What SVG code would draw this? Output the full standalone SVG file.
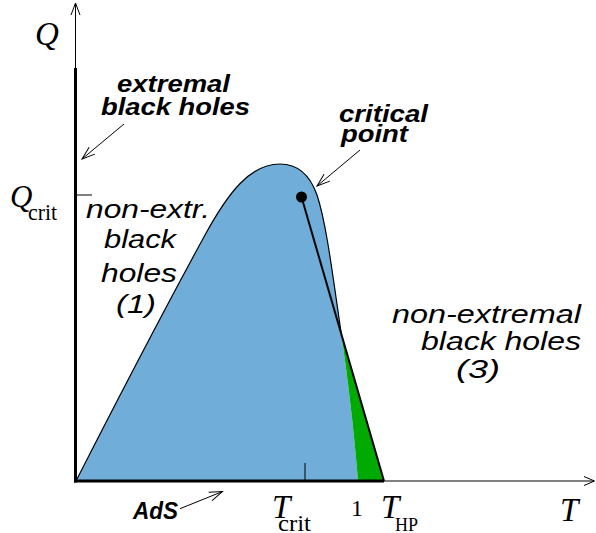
<svg xmlns="http://www.w3.org/2000/svg" width="596" height="533" viewBox="0 0 596 533">
<defs>
<style>
.sans{font-family:"Liberation Sans",Arial,sans-serif;font-style:italic;font-size:25px;fill:#000}
.bold{font-family:"Liberation Sans",Arial,sans-serif;font-style:italic;font-weight:bold;font-size:24px;fill:#000}
.ser{font-family:"Liberation Serif","Times New Roman",serif;fill:#000}
.it{font-style:italic}
.ann{stroke:#000;stroke-width:1;fill:none}
</style>
<marker id="arr" markerUnits="userSpaceOnUse" markerWidth="16" markerHeight="12" viewBox="-14 -6 16 12" refX="0" refY="0" orient="auto">
<path d="M-13,-4.5 L0,0 L-13,4.5" fill="none" stroke="#000" stroke-width="1"/>
</marker>
</defs>
<rect width="596" height="533" fill="#fff"/>
<g id="regions">
<path d="M76,481 C130,375 175,290 205,235 C228,193 250,164 280,164 C300,164 311,178 317,195 C326,222 332,270 341,332 C348,380 354,430 358,481 Z" fill="#70aed9"/>
<path d="M341,332 C348,380 354,430 358,481 L384,481 Z" fill="#00aa00"/>
<path d="M76,481 C130,375 175,290 205,235 C228,193 250,164 280,164 C300,164 311,178 317,195 C326,222 332,270 341,332" fill="none" stroke="#000" stroke-width="1.2"/>
</g>
<g id="axes">
<line x1="75.5" y1="68" x2="75.5" y2="482.5" stroke="#000" stroke-width="3"/>
<line x1="75.5" y1="68" x2="75.5" y2="3" stroke="#000" stroke-width="1"/>
<polyline points="71,15 75.5,3 80,15" fill="none" stroke="#000" stroke-width="1"/>
<line x1="74" y1="481" x2="384" y2="481" stroke="#000" stroke-width="3"/>
<line x1="384" y1="481" x2="594" y2="481" stroke="#000" stroke-width="1"/>
<polyline points="584,476.5 594.5,481 584,485.5" fill="none" stroke="#000" stroke-width="1"/>
<line x1="76" y1="195" x2="92" y2="195" stroke="#000" stroke-width="1"/>
<line x1="305" y1="463" x2="305" y2="481" stroke="#000" stroke-width="1"/>
</g>
<g id="critical-line">
<line x1="301.5" y1="197" x2="384" y2="481" stroke="#000" stroke-width="2"/>
<circle cx="301.5" cy="197" r="5.5" fill="#000"/>
</g>
<g id="connectors">
<line class="ann" x1="124" y1="124" x2="82" y2="159" marker-end="url(#arr)"/>
<line class="ann" x1="360" y1="150" x2="317" y2="186" marker-end="url(#arr)"/>
<line class="ann" x1="180" y1="508.7" x2="222.4" y2="491.6" marker-end="url(#arr)"/>
</g>
<g id="label-Q"><text class="ser it" x="35" y="45" font-size="33">Q</text></g>
<g id="label-Qcrit"><text class="ser it" x="10" y="207" font-size="31">Q</text><text class="ser" x="28" y="220" font-size="23" textLength="29" lengthAdjust="spacingAndGlyphs">crit</text></g>
<g id="label-extremal">
<text class="bold" x="117" y="92" textLength="113" lengthAdjust="spacingAndGlyphs">extremal</text>
<text class="bold" x="101" y="115" textLength="149" lengthAdjust="spacingAndGlyphs">black holes</text>
</g>
<g id="label-critical">
<text class="bold" x="339" y="122" textLength="89" lengthAdjust="spacingAndGlyphs">critical</text>
<text class="bold" x="341" y="142" textLength="67" lengthAdjust="spacingAndGlyphs">point</text>
</g>
<g id="label-region1">
<text class="sans" x="86" y="218" textLength="124" lengthAdjust="spacingAndGlyphs">non-extr.</text>
<text class="sans" x="104" y="248" textLength="72" lengthAdjust="spacingAndGlyphs">black</text>
<text class="sans" x="101" y="282" textLength="76" lengthAdjust="spacingAndGlyphs">holes</text>
<text class="sans" x="116" y="313" textLength="40" lengthAdjust="spacingAndGlyphs">(1)</text>
</g>
<g id="label-region3">
<text class="sans" x="392" y="323" textLength="189" lengthAdjust="spacingAndGlyphs">non-extremal</text>
<text class="sans" x="421" y="350" textLength="160" lengthAdjust="spacingAndGlyphs">black holes</text>
<text class="sans" x="456" y="378" textLength="44" lengthAdjust="spacingAndGlyphs">(3)</text>
</g>
<g id="label-AdS"><text class="bold" x="133" y="519" font-size="22" textLength="45" lengthAdjust="spacingAndGlyphs">AdS</text></g>
<g id="label-Tcrit"><text class="ser it" x="272" y="518" font-size="33">T</text><text class="ser" x="278" y="531" font-size="24" textLength="33" lengthAdjust="spacingAndGlyphs">crit</text></g>
<g id="label-1"><text class="ser" x="351" y="516" font-size="24">1</text></g>
<g id="label-THP"><text class="ser it" x="381" y="518" font-size="33">T</text><text class="ser" x="395" y="531" font-size="18">HP</text></g>
<g id="label-T"><text class="ser it" x="560" y="521" font-size="33">T</text></g>
</svg>
